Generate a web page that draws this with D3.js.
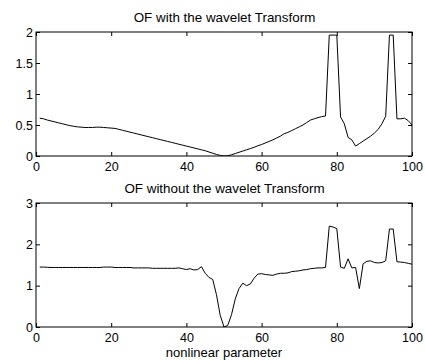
<!DOCTYPE html>
<html>
<head>
<meta charset="utf-8">
<script src="https://cdn.jsdelivr.net/npm/d3@7"></script>
<style>
  body { margin: 0; background: #fff; }
  text { font-family: "Liberation Sans", Arial, Helvetica, sans-serif; fill: #000; }
</style>
</head>
<body>
<div id="chart"></div>
<script>
// Data (x = 1..100)
const xValues = d3.range(1, 101);

const ofWithWavelet = [
  0.61, 0.60, 0.58, 0.565, 0.55, 0.535, 0.52, 0.505, 0.49, 0.48,
  0.47, 0.465, 0.46, 0.46, 0.46, 0.465, 0.465, 0.46, 0.455, 0.45,
  0.445, 0.43, 0.415, 0.40, 0.385, 0.37, 0.355, 0.34, 0.325, 0.31,
  0.295, 0.28, 0.265, 0.25, 0.235, 0.22, 0.205, 0.19, 0.175, 0.16,
  0.145, 0.13, 0.115, 0.10, 0.085, 0.065, 0.045, 0.025, 0.01, 0.0,
  0.005, 0.02, 0.04, 0.06, 0.08, 0.10, 0.12, 0.14, 0.165, 0.185,
  0.21, 0.235, 0.26, 0.29, 0.32, 0.36, 0.38, 0.41, 0.44, 0.47,
  0.50, 0.54, 0.58, 0.60, 0.62, 0.635, 0.645, 1.95, 1.95, 1.95,
  0.63, 0.52, 0.30, 0.26, 0.16, 0.20, 0.24, 0.28, 0.32, 0.37,
  0.43, 0.52, 0.64, 1.95, 1.95, 0.60, 0.60, 0.61, 0.57, 0.50
];

const ofWithoutWavelet = [
  1.45, 1.45, 1.445, 1.44, 1.44, 1.44, 1.44, 1.44, 1.44, 1.44,
  1.44, 1.44, 1.44, 1.44, 1.44, 1.44, 1.44, 1.45, 1.45, 1.45,
  1.44, 1.44, 1.44, 1.44, 1.44, 1.43, 1.43, 1.43, 1.43, 1.43,
  1.42, 1.42, 1.42, 1.42, 1.42, 1.42, 1.42, 1.43, 1.41, 1.39,
  1.41, 1.38, 1.39, 1.46, 1.30, 1.20, 1.15, 0.78, 0.28, 0.0,
  0.04, 0.30, 0.68, 0.93, 1.06, 1.00, 1.04, 1.18, 1.28, 1.29,
  1.27, 1.26, 1.25, 1.28, 1.30, 1.30, 1.31, 1.34, 1.35, 1.36,
  1.38, 1.39, 1.41, 1.42, 1.43, 1.43, 1.44, 2.44, 2.42, 2.38,
  1.45, 1.42, 1.65, 1.43, 1.44, 0.93, 1.53, 1.59, 1.60, 1.56,
  1.55, 1.56, 1.60, 2.37, 2.37, 1.58, 1.57, 1.56, 1.54, 1.52
];

const xTicks = [0, 20, 40, 60, 80, 100];
const topYTicks = [0, 0.5, 1, 1.5, 2];
const bottomYTicks = [0, 1, 2, 3];

const titles = ["OF with the wavelet Transform", "OF without the wavelet Transform"];
const xLabel = "nonlinear parameter";

// Dimensions
const dims = { width: 425, height: 360 };
const plotLeft = 36, plotRight = 412;
const panels = [
  { title: titles[0], values: ofWithWavelet, yDomain: [0, 2], yTicks: topYTicks, top: 32, bottom: 156 },
  { title: titles[1], values: ofWithoutWavelet, yDomain: [0, 3], yTicks: bottomYTicks, top: 203, bottom: 327 }
];

const svg = d3.select("#chart")
  .append("svg")
  .attr("width", dims.width)
  .attr("height", dims.height);

const x = d3.scaleLinear().domain([0, 100]).range([plotLeft, plotRight]);
const tickLen = 4;
const fmt = d3.format("~g");

panels.forEach((p, i) => {
  const y = d3.scaleLinear().domain(p.yDomain).range([p.bottom, p.top]);
  const g = svg.append("g");

  // title
  g.append("text")
    .attr("x", (plotLeft + plotRight) / 2 + 0.5)
    .attr("y", p.top - 10)
    .attr("text-anchor", "middle")
    .style("font-size", "13.4px")
    .text(p.title);

  // clip for the line
  const clipId = "clip" + i;
  svg.append("clipPath").attr("id", clipId)
    .append("rect")
    .attr("x", plotLeft).attr("y", p.top)
    .attr("width", plotRight - plotLeft).attr("height", p.bottom - p.top);

  // line
  const line = d3.line()
    .x((d, j) => x(xValues[j]))
    .y(d => y(d));

  g.append("path")
    .datum(p.values)
    .attr("clip-path", `url(#${clipId})`)
    .attr("fill", "none")
    .attr("stroke", "#000")
    .attr("stroke-width", 1)
    .attr("stroke-linejoin", "round")
    .attr("d", line);

  // axes: ticks inside on all four sides
  const axisBottom = d3.axisBottom(x).tickValues(xTicks).tickSizeInner(-tickLen).tickSizeOuter(0).tickPadding(6).tickFormat(fmt);
  const axisTop = d3.axisTop(x).tickValues(xTicks).tickSizeInner(-tickLen).tickSizeOuter(0).tickFormat("");
  const axisLeft = d3.axisLeft(y).tickValues(p.yTicks).tickSizeInner(-tickLen).tickSizeOuter(0).tickPadding(3).tickFormat(fmt);
  const axisRight = d3.axisRight(y).tickValues(p.yTicks).tickSizeInner(-tickLen).tickSizeOuter(0).tickFormat("");

  const axes = [
    g.append("g").attr("transform", `translate(0,${p.bottom})`).call(axisBottom),
    g.append("g").attr("transform", `translate(0,${p.top})`).call(axisTop),
    g.append("g").attr("transform", `translate(${plotLeft},0)`).call(axisLeft),
    g.append("g").attr("transform", `translate(${plotRight},0)`).call(axisRight)
  ];
  axes.forEach(a => {
    a.selectAll("text").style("font-size", "12.5px").style("font-family", null);
    a.selectAll("line").attr("stroke", "#000");
    a.select(".domain").remove();
  });

  // box
  g.append("rect")
    .attr("x", plotLeft).attr("y", p.top)
    .attr("width", plotRight - plotLeft).attr("height", p.bottom - p.top)
    .attr("fill", "none")
    .attr("stroke", "#000")
    .attr("stroke-width", 1);
});

// x label
svg.append("text")
  .attr("x", (plotLeft + plotRight) / 2)
  .attr("y", 356.5)
  .attr("text-anchor", "middle")
  .style("font-size", "13px")
  .text(xLabel);
</script>
</body>
</html>
